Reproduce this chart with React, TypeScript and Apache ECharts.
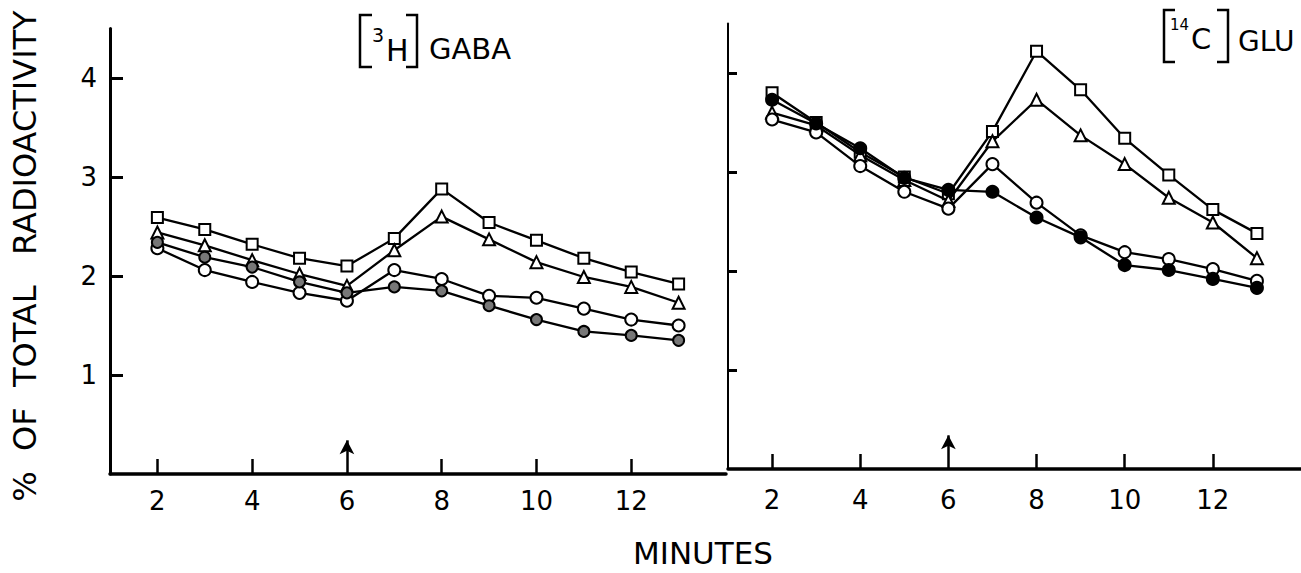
import React, { useEffect, useRef } from 'react';
import * as echarts from 'echarts';

const minutes = [2, 3, 4, 5, 6, 7, 8, 9, 10, 11, 12, 13];
const xTickValues = [2, 4, 8, 10, 12];
const xLabelValues = [2, 4, 6, 8, 10, 12];
const yTickValues = [1, 2, 3, 4];
const stimulusMinute = 6;

// [3H] GABA panel
const gabaSquare = [2.59, 2.47, 2.32, 2.18, 2.1, 2.38, 2.88, 2.54, 2.36, 2.18, 2.04, 1.92];
const gabaTriangle = [2.44, 2.31, 2.16, 2.02, 1.9, 2.26, 2.6, 2.37, 2.14, 1.99, 1.89, 1.73];
const gabaOpenCircle = [2.28, 2.06, 1.94, 1.83, 1.75, 2.06, 1.97, 1.8, 1.78, 1.67, 1.56, 1.5];
const gabaHatchedCircle = [2.34, 2.19, 2.09, 1.94, 1.83, 1.89, 1.85, 1.7, 1.56, 1.44, 1.4, 1.35];

// [14C] GLU panel
const gluSquare = [3.8, 3.5, 3.2, 2.95, 2.78, 3.41, 4.22, 3.83, 3.34, 2.97, 2.62, 2.38];
const gluTriangle = [3.6, 3.47, 3.17, 2.92, 2.71, 3.31, 3.73, 3.37, 3.08, 2.74, 2.49, 2.13];
const gluOpenCircle = [3.53, 3.4, 3.06, 2.8, 2.63, 3.08, 2.69, 2.36, 2.19, 2.12, 2.02, 1.9];
const gluFilledCircle = [3.73, 3.49, 3.24, 2.94, 2.82, 2.8, 2.54, 2.34, 2.06, 2.01, 1.92, 1.83];

const FONT = 'DejaVu Sans';

function series(name: string, values: number[], idx: number, symbol: string, fill: string, size: number, z: number, arrow = false) {
  const s: any = {
    type: 'line',
    name,
    xAxisIndex: idx,
    yAxisIndex: idx,
    data: minutes.map((m, i) => [m, values[i]]),
    symbol,
    symbolSize: size,
    showSymbol: true,
    clip: false,
    z,
    lineStyle: { color: '#000', width: 2.3 },
    itemStyle: { color: fill, borderColor: '#000', borderWidth: 2 },
    emphasis: { disabled: true },
  };
  if (arrow) {
    s.markLine = {
      silent: true,
      symbol: ['none', 'arrow'],
      symbolSize: [11, 14],
      label: { show: false },
      lineStyle: { color: '#000', width: 2.5, type: 'solid' },
      data: [[{ coord: [stimulusMinute, 0] }, { coord: [stimulusMinute, 0.34] }]],
    };
  }
  return s;
}

function xAxis(idx: number, margin: number) {
  return {
    gridIndex: idx,
    type: 'value',
    min: 1,
    max: 14,
    axisLine: { show: true, onZero: false, lineStyle: { color: '#000', width: 3.5 } },
    axisTick: { show: true, inside: true, length: 15, lineStyle: { color: '#000', width: 2.5 }, customValues: xTickValues },
    axisLabel: { show: true, customValues: xLabelValues, color: '#000', fontSize: 26, fontFamily: FONT, margin },
    splitLine: { show: false },
  };
}

function yAxis(idx: number, showLabels: boolean, width: number, tickLen: number) {
  return {
    gridIndex: idx,
    type: 'value',
    min: 0,
    max: 4.5,
    axisLine: { show: true, lineStyle: { color: '#000', width } },
    axisTick: { show: true, inside: true, length: tickLen, lineStyle: { color: '#000', width: 3 }, customValues: yTickValues },
    axisLabel: { show: showLabels, customValues: yTickValues, color: '#000', fontSize: 26, fontFamily: FONT, margin: 13 },
    splitLine: { show: false },
  };
}

function bracket(points: number[][]) {
  return { type: 'polyline', shape: { points }, style: { stroke: '#000', lineWidth: 2.5, fill: null } };
}

function txt(x: number, y: number, text: string, fontSize: number, extra: any = {}) {
  return {
    type: 'text',
    x,
    y,
    ...extra,
    style: { text, fontSize, fontFamily: FONT, fill: '#000', align: 'left', verticalAlign: 'middle', ...(extra.style || {}) },
  };
}

export default function App() {
  const ref = useRef<HTMLDivElement>(null);
  useEffect(() => {
    if (!ref.current) return;
    const chart = echarts.init(ref.current, undefined, { renderer: 'svg' });
    chart.setOption({
      animation: false,
      backgroundColor: '#fff',
      grid: [
        { left: 110, top: 28.5, width: 616, height: 445.5 },
        { left: 728, top: 23.5, width: 619, height: 445.5 },
      ],
      xAxis: [xAxis(0, 14), xAxis(1, 18)],
      yAxis: [yAxis(0, true, 3, 13), yAxis(1, false, 2, 9)],
      series: [
        series('GABA square', gabaSquare, 0, 'rect', '#fff', 11, 4, true),
        series('GABA triangle', gabaTriangle, 0, 'triangle', '#fff', 12, 5),
        series('GABA open circle', gabaOpenCircle, 0, 'circle', '#fff', 12, 6),
        series('GABA hatched circle', gabaHatchedCircle, 0, 'circle', '#777', 11, 7),
        series('GLU square', gluSquare, 1, 'rect', '#fff', 11, 4, true),
        series('GLU triangle', gluTriangle, 1, 'triangle', '#fff', 12, 5),
        series('GLU open circle', gluOpenCircle, 1, 'circle', '#fff', 12, 6),
        series('GLU filled circle', gluFilledCircle, 1, 'circle', '#000', 12, 7),
      ],
      graphic: [
        txt(25, 256, '%  OF  TOTAL   RADIOACTIVITY', 32, { rotation: Math.PI / 2, style: { align: 'center' } }),
        txt(703, 553, 'MINUTES', 31, { style: { align: 'center' } }),
        bracket([[372, 15], [360, 15], [360, 67], [372, 67]]),
        bracket([[406, 15], [417, 15], [417, 67], [406, 67]]),
        txt(372, 35, '3', 19),
        txt(386, 50, 'H', 30),
        txt(429, 49, 'GABA', 29),
        bracket([[1175, 10], [1164, 10], [1164, 62], [1175, 62]]),
        bracket([[1217, 10], [1228, 10], [1228, 62], [1217, 62]]),
        txt(1170, 25, '14', 15),
        txt(1191, 39, 'C', 29),
        txt(1238, 41, 'GLU', 28),
      ],
    });
    return () => chart.dispose();
  }, []);
  return <div ref={ref} style={{ position: 'fixed', left: 0, top: 0, width: 1301, height: 573, background: '#fff' }} />;
}
